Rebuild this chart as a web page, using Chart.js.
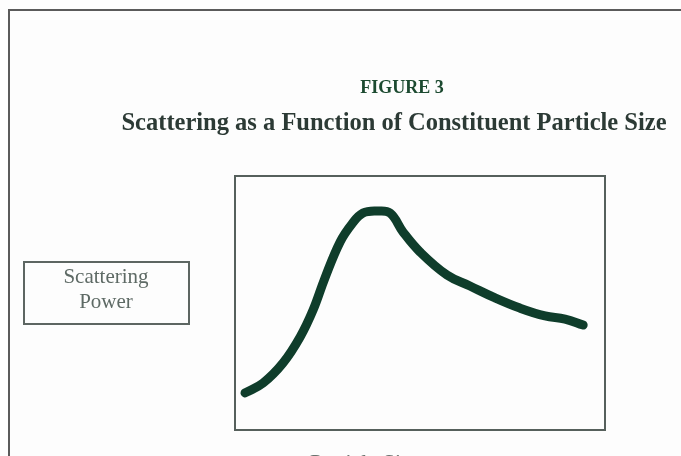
<!DOCTYPE html>
<html>
<head>
<meta charset="utf-8">
<script src="https://cdn.jsdelivr.net/npm/chart.js@4"></script>
<style>
  html, body { margin: 0; padding: 0; background: #fdfdfd; }
  #wrap { width: 681px; height: 456px; position: relative; overflow: hidden; }
</style>
</head>
<body>
<div id="wrap"><canvas id="scatterChart" width="681" height="456"></canvas></div>
<script>
// Particle size (arbitrary units) and scattering power
const particleSize = [2.7, 7.6, 13.0, 17.6, 21.1, 24.3, 28.4, 31.6, 34.6, 38.4, 41.9, 45.4, 50.0, 57.3, 63.5, 70.3, 77.0, 83.8, 89.2, 94.1];
const scatteringPower = [14.6, 18.5, 26.4, 36.6, 47.2, 59.8, 74.0, 81.1, 85.4, 86.2, 85.4, 78.0, 70.1, 61.0, 56.7, 52.0, 48.0, 44.9, 43.7, 41.3];

const figureLabel = 'FIGURE 3';
const chartTitle = 'Scattering as a Function of Constituent Particle Size';
const yLabelLines = ['Scattering', 'Power'];
const xLabel = 'Particle Size';

// Draws the frame, titles and the boxed axis label round the chart area
const decorations = {
    id: 'decorations',
    beforeDraw(chart) {
        const ctx = chart.ctx;
        const area = chart.chartArea;
        ctx.save();
        ctx.fillStyle = '#fdfdfd';
        ctx.fillRect(0, 0, chart.width, chart.height);

        // outer page frame
        ctx.strokeStyle = '#5a5a5a';
        ctx.lineWidth = 2;
        ctx.beginPath();
        ctx.moveTo(9, 470);
        ctx.lineTo(9, 10);
        ctx.lineTo(700, 10);
        ctx.stroke();

        // plot box
        ctx.strokeStyle = '#56605c';
        ctx.lineWidth = 2;
        ctx.strokeRect(area.left, area.top, area.right - area.left, area.bottom - area.top);

        // titles
        ctx.textAlign = 'center';
        ctx.textBaseline = 'middle';
        ctx.fillStyle = '#1c4a30';
        ctx.font = 'bold 18px "Liberation Serif", serif';
        ctx.fillText(figureLabel, 402, 88);
        ctx.fillStyle = '#2c3a35';
        ctx.font = 'bold 24.5px "Liberation Serif", serif';
        ctx.fillText(chartTitle, 394, 124);

        // y label box
        ctx.strokeStyle = '#5d6662';
        ctx.lineWidth = 2;
        ctx.strokeRect(24, 262, 165, 62);
        ctx.fillStyle = '#5e6a65';
        ctx.font = '21px "Liberation Serif", serif';
        ctx.fillText(yLabelLines[0], 106, 277);
        ctx.fillText(yLabelLines[1], 106, 302);

        // x label, cut off by the bottom edge
        ctx.textAlign = 'left';
        ctx.fillStyle = '#6a736f';
        ctx.font = '22px "Liberation Serif", serif';
        ctx.fillText(xLabel, 310, 463);
        ctx.restore();
    }
};

const ctx = document.getElementById('scatterChart').getContext('2d');
const myChart = new Chart(ctx, {
    type: 'line',
    data: {
        datasets: [{
            data: particleSize.map((x, i) => ({ x: x, y: scatteringPower[i] })),
            borderColor: '#0f3d2b',
            borderWidth: 9,
            borderCapStyle: 'round',
            borderJoinStyle: 'round',
            tension: 0.4,
            pointRadius: 0,
            fill: false
        }]
    },
    options: {
        responsive: false,
        animation: false,
        layout: {
            padding: { left: 235, top: 176, right: 76, bottom: 26 }
        },
        plugins: {
            legend: { display: false },
            tooltip: { enabled: false }
        },
        scales: {
            x: { type: 'linear', min: 0, max: 100, display: false },
            y: { min: 0, max: 100, display: false }
        }
    },
    plugins: [decorations]
});
</script>
</body>
</html>
